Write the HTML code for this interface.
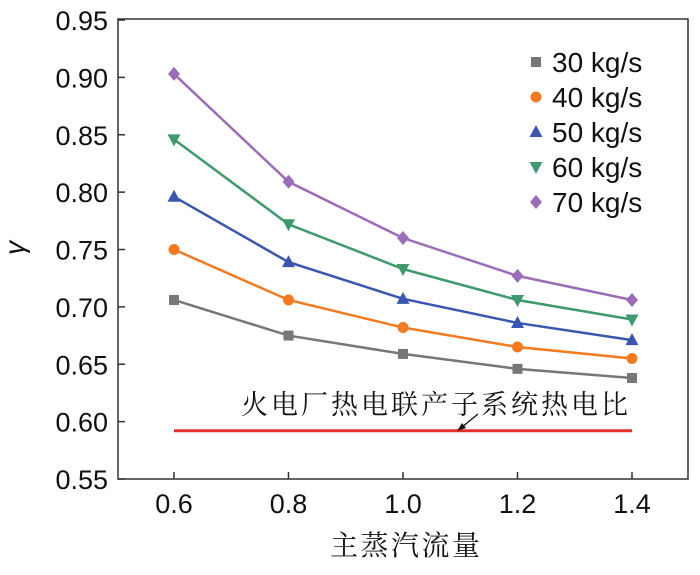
<!DOCTYPE html>
<html><head><meta charset="utf-8"><style>
body{margin:0;background:#fff;width:700px;height:570px;overflow:hidden}
text{font-family:"Liberation Sans","Noto Sans CJK SC",sans-serif}
.cjk{font-family:"Liberation Serif","Noto Serif CJK SC",serif}
</style></head><body>
<svg id="chart" width="700" height="570" xmlns="http://www.w3.org/2000/svg"></svg>
<script>
const xCats=[0.6,0.8,1.0,1.2,1.4];
const s30=[0.706,0.675,0.659,0.646,0.638];
const s40=[0.750,0.706,0.682,0.665,0.655];
const s50=[0.796,0.739,0.707,0.686,0.671];
const s60=[0.846,0.772,0.733,0.706,0.689];
const s70=[0.903,0.809,0.760,0.727,0.706];
const seriesNames=["30 kg/s","40 kg/s","50 kg/s","60 kg/s","70 kg/s"];
const refValue=0.592;
const yTicks=[0.55,0.60,0.65,0.70,0.75,0.80,0.85,0.90,0.95];
const xTicks=["0.6","0.8","1.0","1.2","1.4"];
const ns="http://www.w3.org/2000/svg";
const svg=document.getElementById('chart');
const L=118,R=688,T=19,B=479;
const xs=v=>174+(v-0.6)/0.8*458;
const ys=v=>479-(v-0.55)/0.40*459;
function mk(tag,at,p){const e=document.createElementNS(ns,tag);for(const k in at)e.setAttribute(k,at[k]);(p||svg).appendChild(e);return e;}
let e=mk('rect',{x:L,y:T,width:R-L,height:B-T,fill:'none',stroke:'#333','stroke-width':1.5});

yTicks.forEach(v=>{const y=ys(v);
 let t=mk('line',{x1:L,x2:L+7,y1:y,y2:y,stroke:'#333','stroke-width':1.5});
 
 let l=mk('text',{x:L-10,y:y+10,'text-anchor':'end','font-size':27,fill:'#111'});l.textContent=v.toFixed(2);
 });
xTicks.forEach((s,i)=>{const x=xs(xCats[i]);
 let t=mk('line',{x1:x,x2:x,y1:B,y2:B-7,stroke:'#333','stroke-width':1.5});
 
 let l=mk('text',{x:x,y:B+34,'text-anchor':'middle','font-size':27,fill:'#111'});l.textContent=s;
 });
let yl=mk('text',{x:24,y:248,'text-anchor':'middle','font-size':28,'font-style':'italic',fill:'#111',transform:'rotate(-90 24 248)'});yl.textContent='γ';

let xl=mk('text',{x:330,y:555,'font-size':28,'letter-spacing':2.5,fill:'#111',class:'cjk'});xl.textContent='主蒸汽流量';

const data=[s30,s40,s50,s60,s70];
const colors=['#777777','#f47a20','#3a56b0','#3e9a6c','#9b6db8'];
const shapes=['square','circle','up','down','diamond'];
function marker(sh,x,y,c,p){let m;
 if(sh==='square')m=mk('rect',{x:x-5,y:y-5,width:10,height:10,fill:c},p);
 else if(sh==='circle')m=mk('circle',{cx:x,cy:y,r:5.5,fill:c},p);
 else if(sh==='up')m=mk('polygon',{points:`${x},${y-7} ${x-6.5},${y+5} ${x+6.5},${y+5}`,fill:c},p);
 else if(sh==='down')m=mk('polygon',{points:`${x},${y+7} ${x-6.5},${y-5} ${x+6.5},${y-5}`,fill:c},p);
 else m=mk('polygon',{points:`${x},${y-7} ${x+6},${y} ${x},${y+7} ${x-6},${y}`,fill:c},p);
 return m;}
data.forEach((arr,si)=>{
 const g=mk('g',{});
 let ln=mk('polyline',{points:arr.map((v,i)=>xs(xCats[i])+','+ys(v)).join(' '),fill:'none',stroke:colors[si],'stroke-width':2.5},g);
 
 arr.forEach((v,i)=>{let m=marker(shapes[si],xs(xCats[i]),ys(v),colors[si],g);
  });
 const ly=62+si*35;
 let lm=marker(shapes[si],536,ly,colors[si]);
 let lt=mk('text',{x:552,y:ly+10,'font-size':28,fill:'#111'});lt.textContent=seriesNames[si];
 
});
let rl=mk('line',{x1:xs(0.6),x2:xs(1.4),y1:ys(refValue),y2:ys(refValue),stroke:'#e8302a','stroke-width':3});

let ar=mk('line',{x1:478,y1:414,x2:461,y2:428,stroke:'#111','stroke-width':1.3});

let ah=mk('polygon',{points:'457,431 462,423 466,428',fill:'#111'});

let at=mk('text',{x:241,y:414,'font-size':27,'letter-spacing':3,fill:'#111',class:'cjk'});at.textContent='火电厂热电联产子系统热电比';

</script>
</body></html>
